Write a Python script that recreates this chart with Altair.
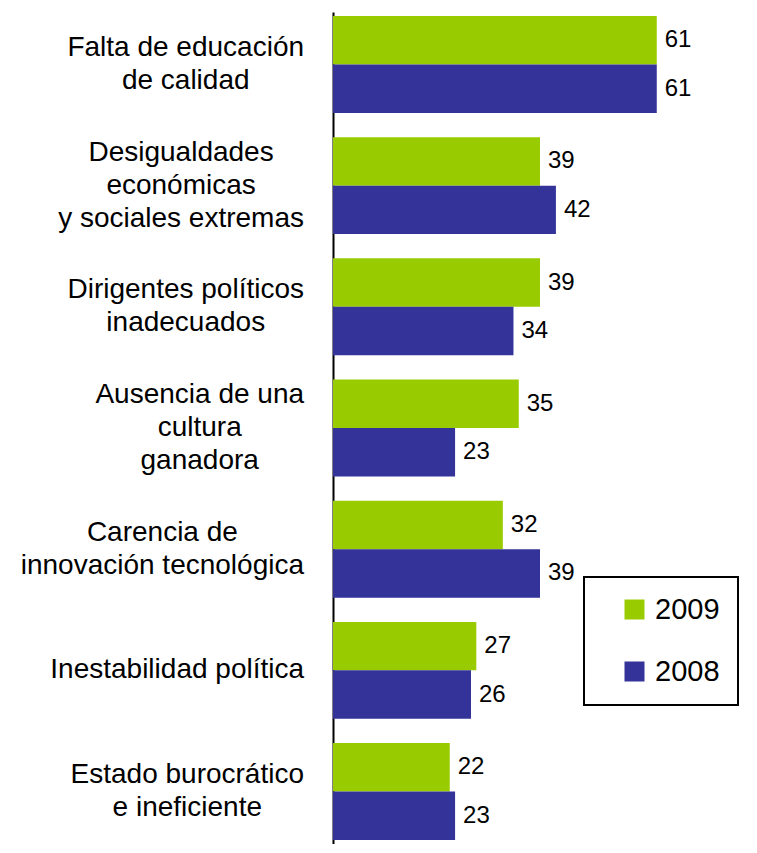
import altair as alt
import pandas as pd

categories = [
    "Falta de educación\nde calidad",
    "Desigualdades\neconómicas\ny sociales extremas",
    "Dirigentes políticos\ninadecuados",
    "Ausencia de una\ncultura\nganadora",
    "Carencia de\ninnovación tecnológica",
    "Inestabilidad política",
    "Estado burocrático\ne ineficiente",
]
years = ["2009", "2008"]
v2009 = [61, 39, 39, 35, 32, 27, 22]
v2008 = [61, 42, 34, 23, 39, 26, 23]
colors = ["#99CC00", "#333399"]

FONT = "Liberation Sans"
LABEL_FS = 28
LINE_H = 33

# Arial / Liberation Sans advance widths (per 1000 em) used to centre multi-line labels
AW = {" ": 278, "a": 556, "b": 556, "c": 500, "d": 556, "e": 556, "f": 278, "g": 556,
      "h": 556, "i": 222, "j": 222, "k": 500, "l": 222, "m": 833, "n": 556, "o": 556,
      "p": 556, "q": 556, "r": 333, "s": 500, "t": 278, "u": 556, "v": 500, "w": 722,
      "x": 500, "y": 500, "z": 500, "á": 556, "é": 556, "í": 278, "ó": 556, "ú": 556,
      "A": 667, "C": 722, "D": 722, "E": 667, "F": 611, "I": 278}


def text_width(s, fs):
    return sum(AW.get(ch, 556) for ch in s) * fs / 1000.0


rows = []
for c, a, b in zip(categories, v2009, v2008):
    rows.append({"cat": c, "year": years[0], "value": a})
    rows.append({"cat": c, "year": years[1], "value": b})
df = pd.DataFrame(rows)

lab = pd.DataFrame({
    "cat": categories,
    "n": [len(c.split("\n")) for c in categories],
    "lx": [-29 - max(text_width(l, LABEL_FS) for l in c.split("\n")) / 2 for c in categories],
})

yscale = alt.Scale(paddingInner=0.2, paddingOuter=0.033)
xscale = alt.Scale(domain=[0, 78], nice=False, zero=True)
yoff = alt.YOffset("year:N", sort=years, scale=alt.Scale(paddingInner=0, paddingOuter=0))

bars = alt.Chart(df).mark_bar().encode(
    x=alt.X("value:Q", scale=xscale, axis=None),
    y=alt.Y("cat:N", sort=categories, scale=yscale,
            axis=alt.Axis(labels=False, ticks=False, title=None, domainColor="black",
                          domainWidth=2, grid=False)),
    yOffset=yoff,
    color=alt.Color("year:N", sort=years,
                    scale=alt.Scale(domain=years, range=colors),
                    legend=alt.Legend(title=None, orient="none", legendX=251, legendY=565,
                                      symbolType="square", symbolSize=400,
                                      symbolStrokeWidth=0, symbolOffset=18,
                                      labelFontSize=29, labelFont=FONT, labelOffset=6,
                                      labelColor="black", rowPadding=32, padding=18,
                                      strokeColor="black")),
)

values = alt.Chart(df).mark_text(align="left", baseline="middle", dx=8, fontSize=24,
                                 font=FONT, color="black").encode(
    x=alt.X("value:Q", scale=xscale, axis=None),
    y=alt.Y("cat:N", sort=categories, scale=yscale),
    yOffset=yoff,
    text=alt.Text("value:Q"),
)


def label_layer(k):
    return alt.Chart(lab).transform_filter(f"datum.n == {k}").mark_text(
        align="center", baseline="middle", fontSize=LABEL_FS, font=FONT, color="black",
        lineBreak="\n", lineHeight=LINE_H, dy=-(k - 1) * LINE_H / 2,
    ).encode(
        x=alt.X("lx:Q", scale=None, axis=None),
        y=alt.Y("cat:N", sort=categories, scale=yscale),
        text="cat:N",
    )


chart = alt.layer(bars, values, label_layer(1), label_layer(2), label_layer(3)).resolve_scale(
    x="independent"
).properties(
    width=414, height=832,
    autosize=alt.AutoSizeParams(type="none"),
    padding={"left": 325, "top": 4, "right": 2, "bottom": 0},
).configure_view(stroke=None).configure_legend(strokeWidth=2)

chart.save("out.html", embed_options={"renderer": "svg", "actions": False})
